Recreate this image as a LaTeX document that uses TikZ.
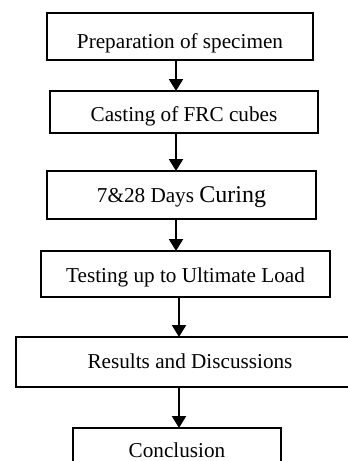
\documentclass[tikz,border=0pt]{standalone}
\usepackage{fontspec}
\setmainfont{Liberation Serif}
\usetikzlibrary{arrows.meta,positioning}
\tikzset{
  box/.style={
    draw, line width=1.2pt, align=center, font=\fontsize{21.2}{24}\selectfont,
    inner xsep=0pt, inner ysep=0pt, outer sep=0pt, text height=31pt, text depth=15pt
  },
  arr/.style={-{Triangle[width=14pt,length=12pt]}, line width=2.2pt}
}

\begin{document}
\begin{tikzpicture}[x=1pt, y=1pt]
  \useasboundingbox (0,0) rectangle (348,-461);
  \clip (0,0) rectangle (348,-461);

  % --- steps -------------------------------------------------------------
  \node[box, minimum width=266pt, text height=35pt, text depth=12pt] (prep) at (180,-36.5)
    {Preparation of specimen};
  \node[box, minimum width=268pt, text height=30pt, text depth=12pt,
        below=31pt of prep, xshift=4pt] (cast) {Casting of FRC cubes};
  \node[box, minimum width=269pt, text depth=17pt,
        below=38pt of cast, xshift=-2.5pt] (cure)
    {7\&28 Days {\fontsize{24}{28}\selectfont Curing}};
  \node[box, minimum width=289pt, below=32pt of cure, xshift=4pt] (test)
    {Testing up to Ultimate Load};
  \node[box, minimum width=348pt, text depth=19pt,
        below=40pt of test, xshift=4.5pt] (res) {Results and Discussions};
  \node[box, minimum width=208pt, text height=29pt,
        below=41pt of res, xshift=-13pt] (concl) {Conclusion};

  % --- connectors --------------------------------------------------------
  \coordinate (laneA) at (176,0);
  \coordinate (laneB) at (179,0);
  \draw[arr] (prep.south -| laneA) -- (cast.north -| laneA);
  \draw[arr] (cast.south -| laneA) -- (cure.north -| laneA);
  \draw[arr] (cure.south -| laneA) -- (test.north -| laneA);
  \draw[arr] (test.south -| laneB) -- (res.north -| laneB);
  \draw[arr] (res.south -| laneB) -- (concl.north -| laneB);
\end{tikzpicture}
\end{document}
